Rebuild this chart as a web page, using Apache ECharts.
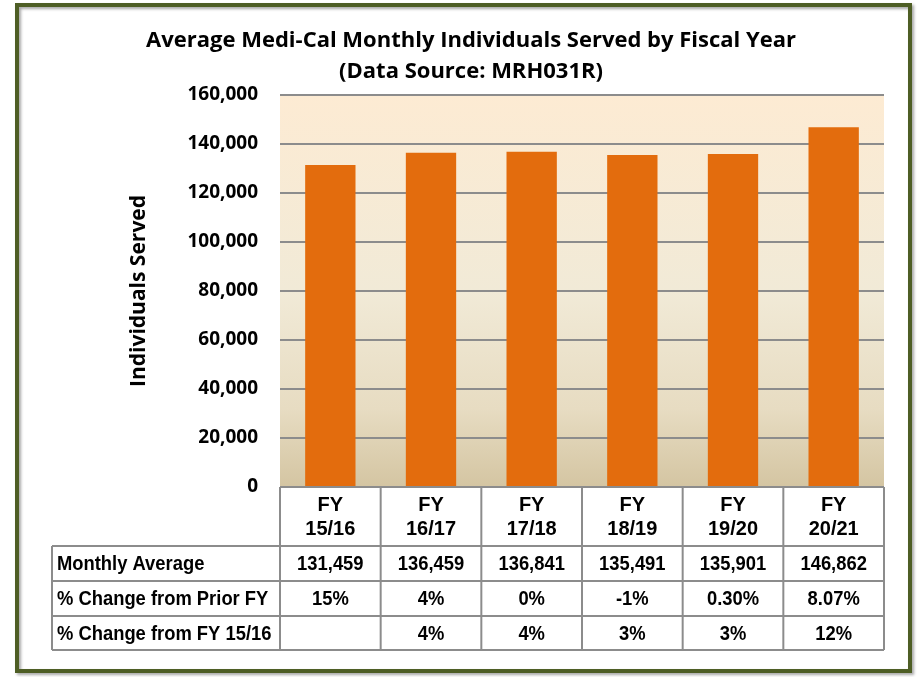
<!DOCTYPE html>
<html><head><meta charset="utf-8">
<script src="https://cdn.jsdelivr.net/npm/echarts@6/dist/echarts.min.js"></script>
<style>html,body{margin:0;padding:0;background:#fff}#c{width:919px;height:677px}</style>
</head><body><div id="c"></div>
<script>
const categories = ['FY\n15/16', 'FY\n16/17', 'FY\n17/18', 'FY\n18/19', 'FY\n19/20', 'FY\n20/21'];
const monthlyAverage = [131459, 136459, 136841, 135491, 135901, 146862];
const changePrior = ['15%', '4%', '0%', '-1%', '0.30%', '8.07%'];
const change1516 = ['', '4%', '4%', '3%', '3%', '12%'];
const rowLabels = ['Monthly Average', '% Change from Prior FY', '% Change from FY 15/16'];
const yMin = 0, yMax = 160000, yStep = 20000;

const chart = echarts.init(document.getElementById('c'));
const G = {left: 280, right: 884, top: 95, bottom: 487};
const tableFont = '"Liberation Sans", Arial, sans-serif';
const titleFont = '"Open Sans", Lato, sans-serif';
const rowsY = [546, 581, 616, 650];
const labelX = 52;
const lineCol = '#8c8c8c';
const sx = 0.875;

const graphics = [];
graphics.push({type: 'rect', shape: {x: 17, y: 5, width: 893, height: 666},
  style: {fill: 'transparent', stroke: '#4e5e25', lineWidth: 4,
    shadowBlur: 3, shadowOffsetX: 2, shadowOffsetY: 2, shadowColor: 'rgba(0,0,0,0.35)'}, z: 10});
const colW = (G.right - G.left) / categories.length;
graphics.push({type: 'line', shape: {x1: G.left, y1: G.bottom, x2: G.right, y2: G.bottom}, style: {stroke: lineCol, lineWidth: 2}, z: 5});
rowsY.forEach(y => graphics.push({type: 'line', shape: {x1: labelX, y1: y, x2: G.right, y2: y}, style: {stroke: lineCol, lineWidth: 2}, z: 5}));
graphics.push({type: 'line', shape: {x1: labelX, y1: rowsY[0], x2: labelX, y2: rowsY[3]}, style: {stroke: lineCol, lineWidth: 2}, z: 5});
for (let i = 0; i <= categories.length; i++) {
  const x = G.left + i * colW;
  graphics.push({type: 'line', shape: {x1: x, y1: G.bottom, x2: x, y2: rowsY[3]}, style: {stroke: lineCol, lineWidth: 2}, z: 5});
}
const rows = [monthlyAverage.map(v => v.toLocaleString('en-US')), changePrior, change1516];
rows.forEach((r, ri) => {
  const cy = (rowsY[ri] + rowsY[ri + 1]) / 2 + 1;
  graphics.push({type: 'text', x: labelX + 5, y: cy, scaleX: sx, style: {text: rowLabels[ri], font: 'bold 21px ' + tableFont, fill: '#000', verticalAlign: 'middle', align: 'left'}, z: 6});
  r.forEach((t, ci) => {
    graphics.push({type: 'text', x: G.left + (ci + 0.5) * colW, y: cy, scaleX: sx, style: {text: t, font: 'bold 21px ' + tableFont, fill: '#000', verticalAlign: 'middle', align: 'center'}, z: 6});
  });
});

chart.setOption({
  animation: false,
  backgroundColor: '#fff',
  title: {
    text: 'Average Medi-Cal Monthly Individuals Served by Fiscal Year\n(Data Source: MRH031R)',
    left: 466, top: 20, textAlign: 'center',
    textStyle: {fontFamily: titleFont, fontWeight: 'bold', fontSize: 22, lineHeight: 31, color: '#000'}
  },
  grid: {left: G.left, right: 919 - G.right, top: G.top, bottom: 677 - G.bottom, show: true, borderWidth: 0,
    backgroundColor: new echarts.graphic.LinearGradient(0, 0, 0, 1, [
      {offset: 0, color: '#fdebd3'}, {offset: 0.5, color: '#f1ead7'}, {offset: 0.8, color: '#e7dcc2'}, {offset: 1, color: '#d4c5a2'}])},
  xAxis: {
    type: 'category', data: categories,
    axisLine: {show: false}, axisTick: {show: false},
    axisLabel: {margin: 6, fontFamily: tableFont, fontWeight: 'bold', fontSize: 20, lineHeight: 24, color: '#000'}
  },
  yAxis: {
    type: 'value', min: yMin, max: yMax, interval: yStep,
    name: 'Individuals Served', nameLocation: 'middle', nameGap: 130, nameRotate: 90,
    nameTextStyle: {fontFamily: titleFont, fontWeight: 'bold', fontSize: 21, color: '#000'},
    axisLine: {show: false}, axisTick: {show: false},
    axisLabel: {margin: 22, fontFamily: titleFont, fontWeight: 'bold', fontSize: 19, color: '#000',
      formatter: v => v.toLocaleString('en-US')},
    splitLine: {lineStyle: {color: '#8c8c8c', width: 2}}
  },
  series: [{
    type: 'bar', data: monthlyAverage, barWidth: '50%',
    itemStyle: {color: '#e36c0d'}
  }],
  graphic: graphics
});
</script></body></html>
